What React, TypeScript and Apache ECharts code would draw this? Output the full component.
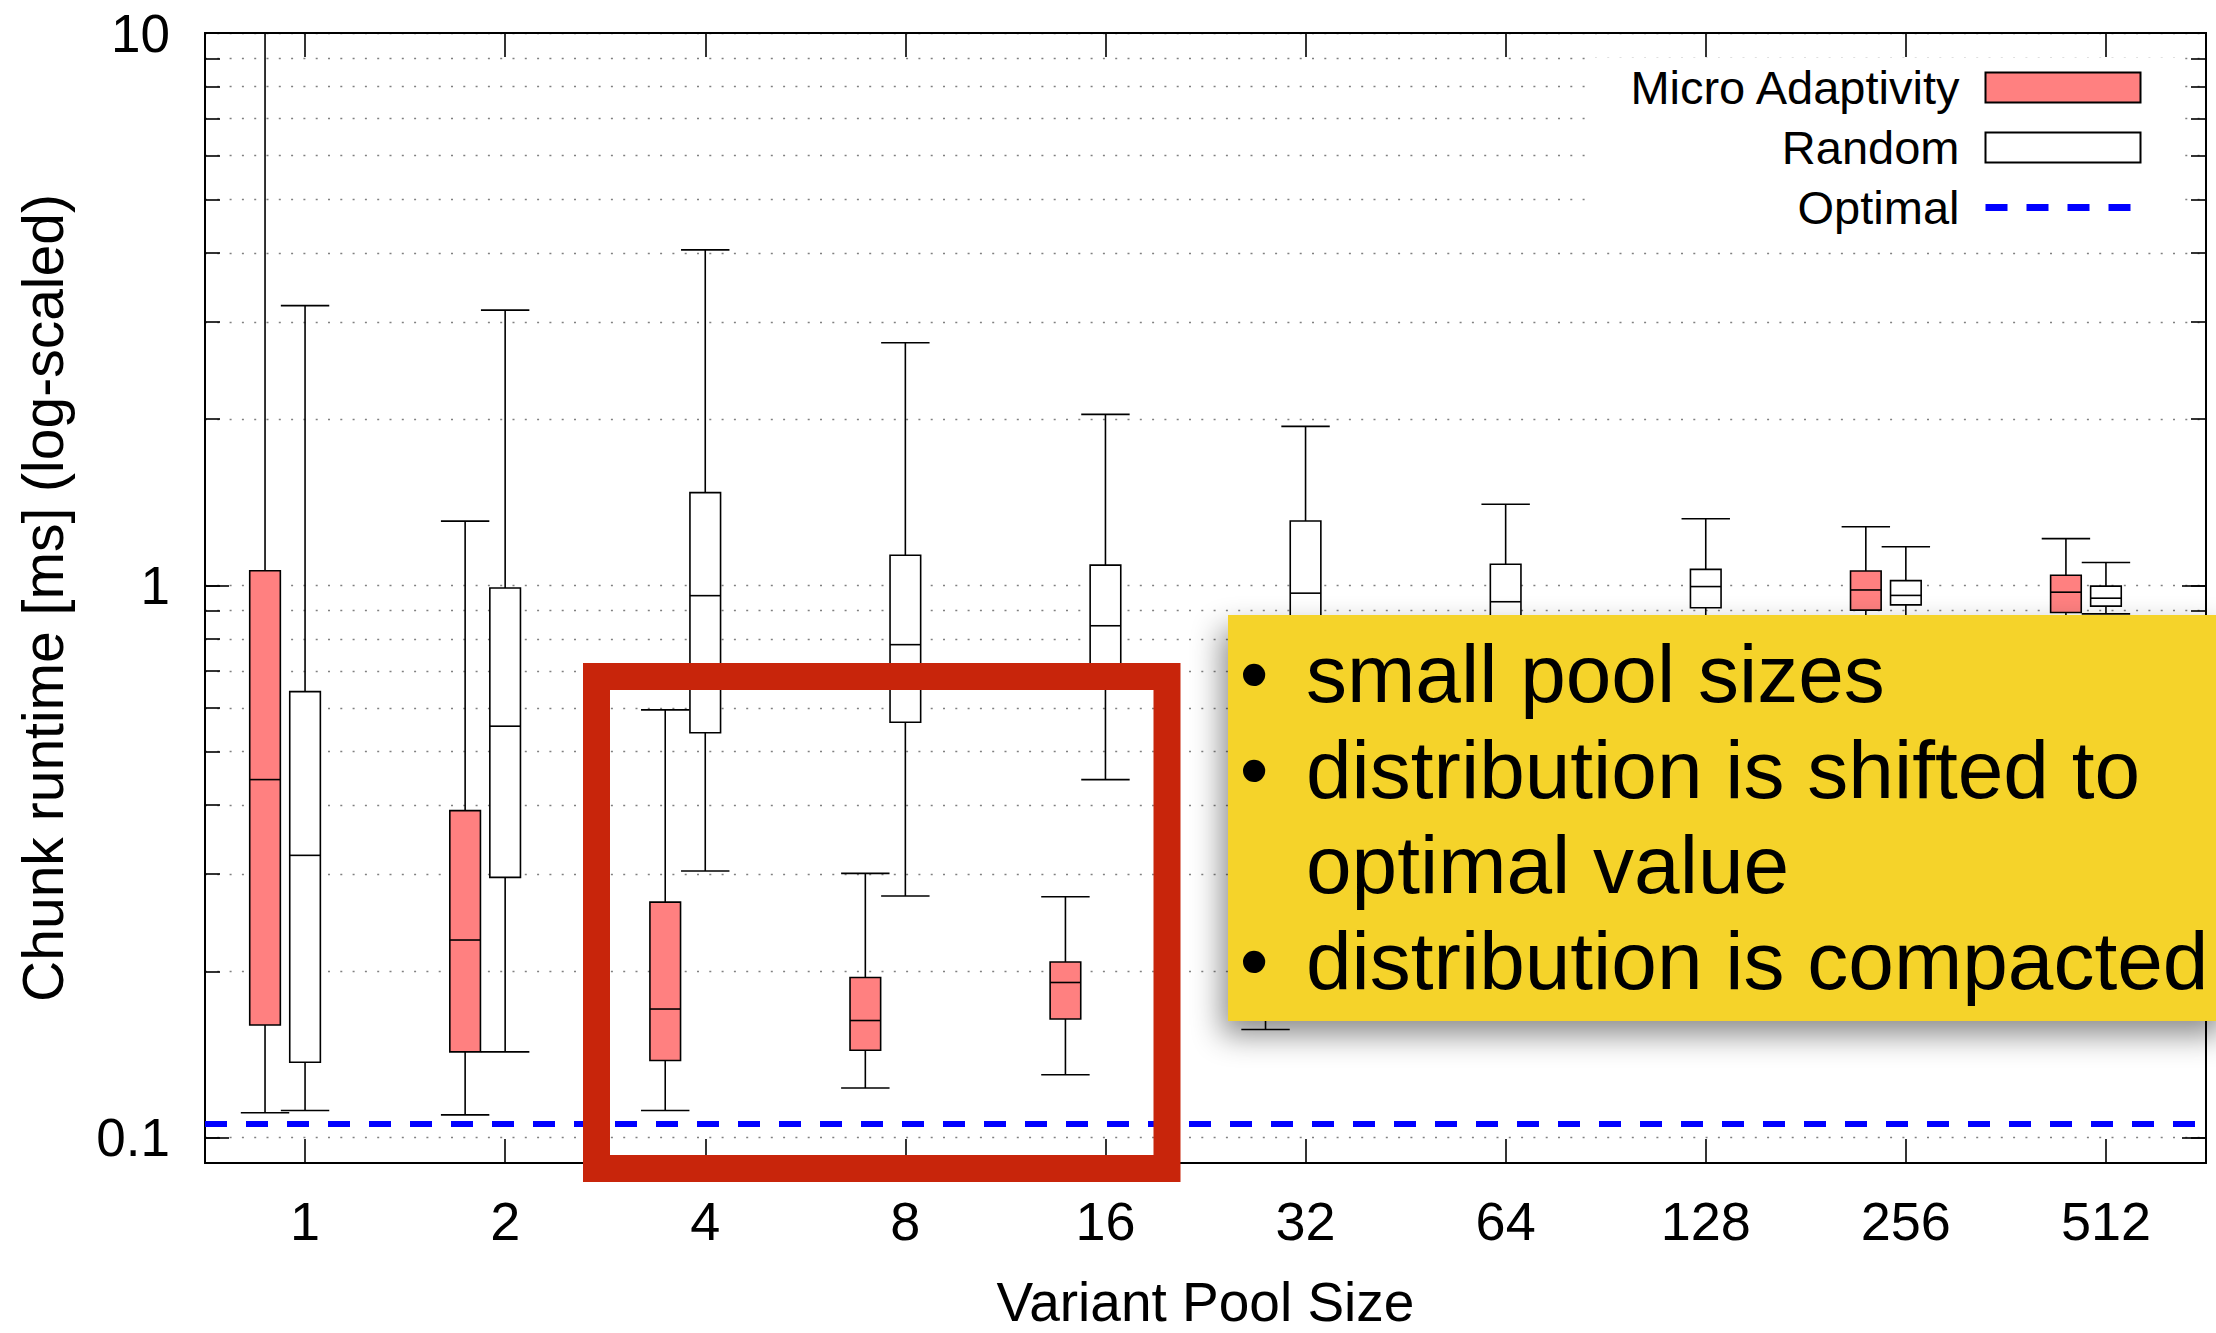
import React, { useEffect, useRef } from 'react';
import * as echarts from 'echarts';

const FONT = 'Liberation Sans, Arial, Helvetica, sans-serif';

// Variant pool sizes (x categories)
const CATEGORIES = ['1', '2', '4', '8', '16', '32', '64', '128', '256', '512'];

// Micro Adaptivity: whisker low, Q1, median, Q3, whisker high  (chunk runtime in ms)
const MA_LOW = [0.111, 0.110, 0.112, 0.123, 0.130, 0.157, 0.172, 0.18, 0.80, 0.80];
const MA_Q1 = [0.160, 0.143, 0.138, 0.144, 0.164, 0.19, 0.192, 0.20, 0.902, 0.893];
const MA_MEDIAN = [0.445, 0.228, 0.171, 0.163, 0.191, 0.21, 0.212, 0.22, 0.981, 0.972];
const MA_Q3 = [1.063, 0.391, 0.267, 0.195, 0.208, 0.235, 0.24, 0.25, 1.062, 1.043];
const MA_HIGH = [12, 1.307, 0.595, 0.301, 0.273, 0.32, 0.33, 0.35, 1.277, 1.215];

// Random
const RANDOM_LOW = [0.112, 0.143, 0.304, 0.274, 0.445, 0.50, 0.60, 0.75, 0.85, 0.888];
const RANDOM_Q1 = [0.137, 0.296, 0.541, 0.565, 0.70, 0.75, 0.82, 0.911, 0.922, 0.917];
const RANDOM_MEDIAN = [0.3245, 0.556, 0.958, 0.781, 0.845, 0.968, 0.934, 0.995, 0.959, 0.948];
const RANDOM_Q3 = [0.642, 0.989, 1.472, 1.134, 1.088, 1.308, 1.092, 1.069, 1.02, 0.997];
const RANDOM_HIGH = [3.21, 3.15, 4.05, 2.75, 2.04, 1.94, 1.402, 1.32, 1.175, 1.10];

// Optimal runtime
const OPTIMAL = 0.106;

// Y axis
const Y_MIN = 0.09;
const Y_MAX = 10;
const Y_MAJOR_TICKS = [0.1, 1, 10];
const Y_MINOR_TICKS = [
  0.1, 0.2, 0.3, 0.4, 0.5, 0.6, 0.7, 0.8, 0.9,
  1, 2, 3, 4, 5, 6, 7, 8, 9, 10,
];

// Annotation texts
const NOTE_LINES = [
  { bullet: true, text: 'small pool sizes' },
  { bullet: true, text: 'distribution is shifted to' },
  { bullet: false, text: 'optimal value' },
  { bullet: true, text: 'distribution is compacted' },
];

function boxRenderer(offsetFrac: number, fill: string) {
  return (params: any, api: any) => {
    const i = api.value(0);
    const low = api.value(1);
    const q1 = api.value(2);
    const med = api.value(3);
    const q3 = api.value(4);
    const high = api.value(5);
    const band = api.coord([1, med])[0] - api.coord([0, med])[0];
    const cx = api.coord([i, med])[0] + offsetFrac * band;
    const yLow = api.coord([i, low])[1];
    const yQ1 = api.coord([i, q1])[1];
    const yMed = api.coord([i, med])[1];
    const yQ3 = api.coord([i, q3])[1];
    const yHigh = api.coord([i, high])[1];
    const bw = band * 0.153;
    const cw = band * 0.242;
    const ls = () => ({ stroke: '#000', lineWidth: 1.6 });
    return {
      type: 'group',
      children: [
        { type: 'line', shape: { x1: cx, y1: yHigh, x2: cx, y2: yQ3 }, style: ls() },
        { type: 'line', shape: { x1: cx, y1: yQ1, x2: cx, y2: yLow }, style: ls() },
        { type: 'line', shape: { x1: cx - cw / 2, y1: yHigh, x2: cx + cw / 2, y2: yHigh }, style: ls() },
        { type: 'line', shape: { x1: cx - cw / 2, y1: yLow, x2: cx + cw / 2, y2: yLow }, style: ls() },
        {
          type: 'rect',
          shape: { x: cx - bw / 2, y: yQ3, width: bw, height: yQ1 - yQ3 },
          style: { fill, stroke: '#000', lineWidth: 1.6 },
        },
        { type: 'line', shape: { x1: cx - bw / 2, y1: yMed, x2: cx + bw / 2, y2: yMed }, style: ls() },
      ],
    };
  };
}

export default function App() {
  const ref = useRef<HTMLDivElement>(null);

  useEffect(() => {
    if (!ref.current) return;
    const chart = echarts.init(ref.current, null, { renderer: 'svg' });

    const maData = CATEGORIES.map((_, i) => [i, MA_LOW[i], MA_Q1[i], MA_MEDIAN[i], MA_Q3[i], MA_HIGH[i]]);
    const rndData = CATEGORIES.map((_, i) => [
      i, RANDOM_LOW[i], RANDOM_Q1[i], RANDOM_MEDIAN[i], RANDOM_Q3[i], RANDOM_HIGH[i],
    ]);

    const axisLine = { show: true, onZero: false, lineStyle: { color: '#000', width: 2 } };
    const tickLine = { color: '#000', width: 1.6 };
    const yBase: any = {
      type: 'log',
      logBase: 10,
      min: Y_MIN,
      max: Y_MAX,
      axisLine,
    };

    const noteGraphics: any[] = [];
    const baseY = 673.3;
    const pitch = 95.8;
    NOTE_LINES.forEach((ln, k) => {
      const y = baseY + k * pitch;
      if (ln.bullet) {
        noteGraphics.push({
          type: 'text', z: 102, silent: true, x: 1254, y,
          style: { text: '•', fontSize: 82, fontFamily: FONT, fill: '#000', align: 'center', verticalAlign: 'middle' },
        });
      }
      noteGraphics.push({
        type: 'text', z: 102, silent: true, x: 1306, y,
        style: {
          text: ln.text, fontSize: 82, fontFamily: FONT, fill: '#000', align: 'left', verticalAlign: 'middle',
        },
      });
    });

    const option: any = {
      animation: false,
      backgroundColor: '#fff',
      grid: { left: 205, right: 10, top: 33, bottom: 170, containLabel: false, outerBoundsMode: 'none' },
      legend: {
        show: true,
        orient: 'vertical',
        align: 'right',
        right: 39,
        top: 58,
        padding: [6, 33, 10, 34],
        backgroundColor: '#fff',
        itemWidth: 155,
        itemHeight: 30,
        itemGap: 13,
        selectedMode: false,
        textStyle: { fontSize: 47, fontFamily: FONT, color: '#000', padding: [0, 21, 0, 0] },
        data: [
          { name: 'Micro Adaptivity', icon: 'rect', itemStyle: { color: '#FF8080', borderColor: '#000', borderWidth: 2 } },
          { name: 'Random', icon: 'rect', itemStyle: { color: '#fff', borderColor: '#000', borderWidth: 2 } },
          {
            name: 'Optimal',
            itemStyle: { opacity: 0 },
            lineStyle: { color: '#0000FF', width: 7, type: [22, 19] },
          },
        ],
      },
      xAxis: [
        {
          type: 'category',
          data: CATEGORIES,
          position: 'bottom',
          boundaryGap: true,
          axisLine,
          axisTick: { show: true, inside: true, length: 24, alignWithLabel: true, interval: 0, lineStyle: tickLine },
          axisLabel: { show: true, interval: 0, margin: 31, fontSize: 54, lineHeight: 54, fontFamily: FONT, color: '#000' },
          splitLine: { show: false },
          name: 'Variant Pool Size',
          nameLocation: 'middle',
          nameGap: 117,
          nameTextStyle: { fontSize: 55, lineHeight: 44, fontFamily: FONT, color: '#000' },
        },
        {
          type: 'category',
          data: CATEGORIES,
          position: 'top',
          boundaryGap: true,
          axisLine,
          axisTick: { show: true, inside: true, length: 24, alignWithLabel: true, interval: 0, lineStyle: tickLine },
          axisLabel: { show: false },
          splitLine: { show: false },
        },
      ],
      yAxis: [
        {
          ...yBase,
          position: 'left',
          axisTick: { show: true, inside: true, length: 15, customValues: Y_MINOR_TICKS, lineStyle: tickLine },
          axisLabel: { show: false },
          splitLine: { show: true, lineStyle: { color: '#808080', width: 1.4, type: [2, 10.3] } },
          name: 'Chunk runtime [ms] (log-scaled)',
          nameLocation: 'middle',
          nameGap: 134,
          nameTextStyle: { fontSize: 57, lineHeight: 57, fontFamily: FONT, color: '#000' },
        },
        {
          ...yBase,
          position: 'left',
          axisTick: { show: true, inside: true, length: 24, customValues: Y_MAJOR_TICKS, lineStyle: tickLine },
          axisLabel: {
            show: true,
            customValues: Y_MAJOR_TICKS,
            formatter: (v: number) => String(v),
            margin: 35,
            fontSize: 53,
            lineHeight: 53,
            fontFamily: FONT,
            color: '#000',
          },
          splitLine: { show: false },
        },
        {
          ...yBase,
          position: 'right',
          axisTick: { show: true, inside: true, length: 15, customValues: Y_MINOR_TICKS, lineStyle: tickLine },
          axisLabel: { show: false },
          splitLine: { show: false },
        },
        {
          ...yBase,
          position: 'right',
          axisTick: { show: true, inside: true, length: 24, customValues: Y_MAJOR_TICKS, lineStyle: tickLine },
          axisLabel: { show: false },
          splitLine: { show: false },
        },
      ],
      series: [
        {
          name: 'Micro Adaptivity',
          type: 'custom',
          xAxisIndex: 0,
          yAxisIndex: 0,
          clip: true,
          itemStyle: { color: '#FF8080' },
          encode: { x: 0, y: [1, 2, 3, 4, 5] },
          renderItem: boxRenderer(-0.2, '#FF8080'),
          data: maData,
        },
        {
          name: 'Random',
          type: 'custom',
          xAxisIndex: 0,
          yAxisIndex: 0,
          clip: true,
          itemStyle: { color: '#ffffff' },
          encode: { x: 0, y: [1, 2, 3, 4, 5] },
          renderItem: boxRenderer(0, '#ffffff'),
          data: rndData,
        },
        {
          name: 'Optimal',
          type: 'line',
          xAxisIndex: 0,
          yAxisIndex: 0,
          symbol: 'none',
          data: [],
          lineStyle: { color: '#0000FF', width: 6, type: [22, 19] },
          itemStyle: { color: '#0000FF' },
          markLine: {
            silent: true,
            precision: 6,
            symbol: ['none', 'none'],
            label: { show: false },
            emphasis: { disabled: true },
            lineStyle: { color: '#0000FF', width: 6, type: [22, 19], opacity: 1 },
            data: [{ yAxis: OPTIMAL }],
          },
        },
      ],
      graphic: [
        {
          type: 'rect',
          z: 100,
          silent: true,
          shape: { x: 596.5, y: 676.5, width: 570.5, height: 492 },
          style: { fill: 'none', stroke: '#C8250B', lineWidth: 27 },
        },
        {
          type: 'rect',
          z: 101,
          silent: true,
          shape: { x: 1228, y: 615, width: 1000, height: 406 },
          style: {
            fill: '#F5D32B',
            shadowBlur: 30,
            shadowOffsetX: -6,
            shadowOffsetY: 14,
            shadowColor: 'rgba(0,0,0,0.45)',
          },
        },
        ...noteGraphics,
      ],
    };

    chart.setOption(option);
    return () => {
      chart.dispose();
    };
  }, []);

  return (
    <div
      ref={ref}
      style={{ position: 'absolute', left: 0, top: 0, width: 2216, height: 1333, background: '#fff' }}
    />
  );
}
